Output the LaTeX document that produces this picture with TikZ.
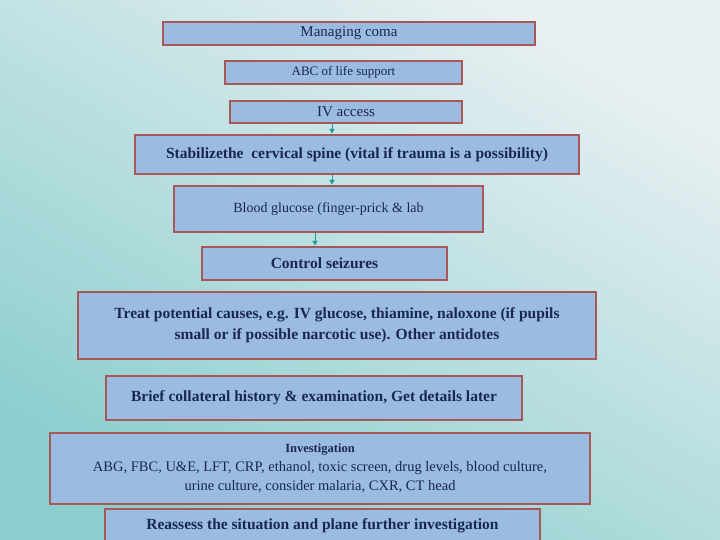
\documentclass[tikz,border=0pt]{standalone}
\usepackage{fontspec}
\setmainfont{Liberation Serif}
\usetikzlibrary{arrows.meta}
\definecolor{bfill}{HTML}{9BBBE0}
\definecolor{bdraw}{HTML}{A85858}
\definecolor{btext}{HTML}{1A2850}
\definecolor{arrc}{HTML}{1E9A96}
\begin{document}
\begin{tikzpicture}[x=1pt,y=-1pt,
  box/.style={draw=bdraw,line width=2.2pt,fill=bfill,text=btext,inner sep=2pt,align=center,font=\fontsize{15}{18}\selectfont},
  bx/.style={box,font=\bfseries\fontsize{15.5}{21}\selectfont},
  arr/.style={arrc,line width=1pt,-{Latex[length=5pt,width=6pt]}}]
\useasboundingbox (0,0) rectangle (720,540);
\path[left color={rgb,255:red,232;green,240;blue,242},right color={rgb,255:red,140;green,206;blue,206},shading angle=-30] (0,0) rectangle (720,540);
\node[box,minimum width=372,minimum height=23] (m) at (349,33.5) {Managing coma};
\node[box,font=\fontsize{13}{16}\selectfont,minimum width=237,minimum height=23] (abc) at (343.5,72.5) {ABC of life support};
\node[box,minimum width=232,minimum height=22] (iv) at (346,112) {IV access};
\node[bx,minimum width=444,minimum height=39] (st) at (357,154.5) {Stabilizethe\ \ cervical spine (vital if trauma is a possibility)};
\node[box,font=\fontsize{14}{17}\selectfont,minimum width=309,minimum height=46] (bg) at (328.5,209) {Blood glucose (finger-prick \& lab};
\node[bx,minimum width=245,minimum height=33] (cs) at (324.5,263.5) {Control seizures};
\node[bx,minimum width=518,minimum height=67] (tr) at (337,325.5) {Treat potential causes, e.g. IV glucose, thiamine, naloxone (if pupils\\small or if possible narcotic use). Other antidotes};
\node[bx,minimum width=416,minimum height=44] (br) at (314,398) {Brief collateral history \& examination, Get details later};
\node[box,minimum width=540,minimum height=71,anchor=north,font=\fontsize{14.5}{19}\selectfont] (inv) at (320,432) {{\bfseries\fontsize{12.5}{14}\selectfont Investigation}\\ABG, FBC, U\&E, LFT, CRP, ethanol, toxic screen, drug levels, blood culture,\\urine culture, consider malaria, CXR, CT head};
\node[bx,minimum width=435,minimum height=34] (re) at (322.5,526) {Reassess the situation and plane further investigation};
\coordinate (a1) at ([xshift=-14pt]iv.south);
\draw[arr] (a1) -- (a1 |- st.north);
\coordinate (a2) at ([xshift=-25pt]st.south);
\draw[arr] (a2) -- (a2 |- bg.north);
\coordinate (a3) at ([xshift=-13.5pt]bg.south);
\draw[arr] (a3) -- (a3 |- cs.north);
\end{tikzpicture}
\end{document}
